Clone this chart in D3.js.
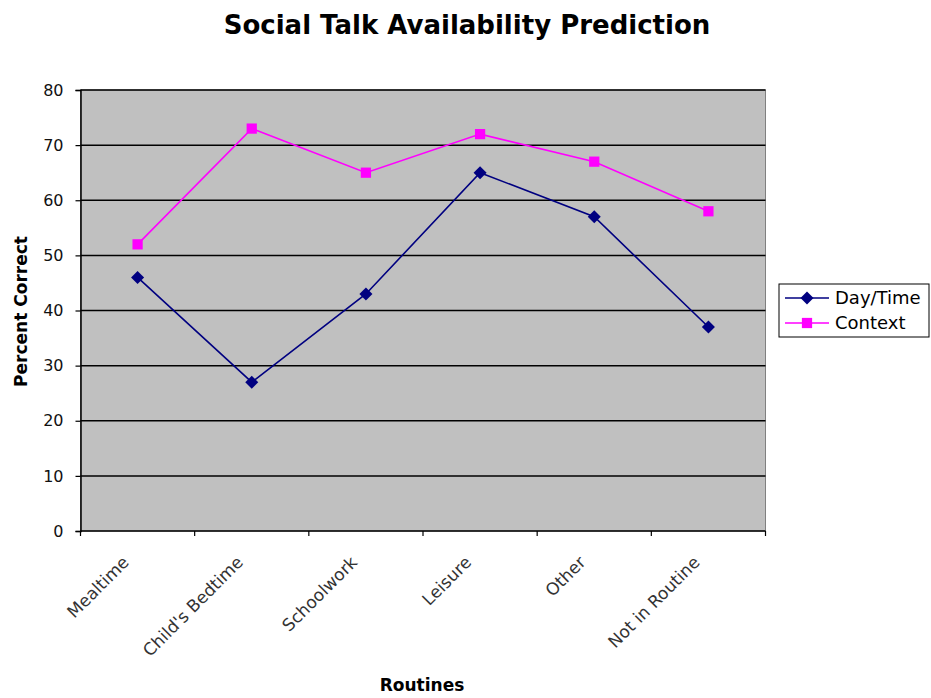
<!DOCTYPE html>
<html>
<head>
<meta charset="utf-8">
<script src="https://cdn.jsdelivr.net/npm/d3@7"></script>
<style>
  body { margin: 0; background: #fff; }
  text { font-family: "DejaVu Sans", Verdana, sans-serif; }
</style>
</head>
<body>
<svg id="chart" width="931" height="698"></svg>
<script>
// Routine categories and percent-correct values for each predictor
const categories = ["Mealtime", "Child's Bedtime", "Schoolwork", "Leisure", "Other", "Not in Routine"];
const dayTime = [46, 27, 43, 65, 57, 37];
const context = [52, 73, 65, 72, 67, 58];
const yTicks = [0, 10, 20, 30, 40, 50, 60, 70, 80];

// Diamond drawn as a square turned 45 degrees
const diamond = {
  draw(ctx, size) {
    const r = Math.sqrt(size / 2);
    ctx.moveTo(0, -r); ctx.lineTo(r, 0); ctx.lineTo(0, r); ctx.lineTo(-r, 0); ctx.closePath();
  }
};

const series = [
  { name: "Day/Time", values: dayTime, color: "#000080", shape: diamond, size: 85 },
  { name: "Context", values: context, color: "#ff00ff", shape: d3.symbolSquare, size: 105 }
];

const svg = d3.select("#chart");
const plot = { left: 80.5, top: 90, right: 765.5, bottom: 531 };

const x = d3.scaleBand().domain(categories).range([plot.left, plot.right]).padding(0);
const y = d3.scaleLinear().domain([0, 80]).range([plot.bottom, plot.top]);

// Plot background
svg.append("rect")
  .attr("x", plot.left).attr("y", plot.top)
  .attr("width", plot.right - plot.left).attr("height", plot.bottom - plot.top)
  .attr("fill", "#c0c0c0")
  .attr("stroke", "#808080").attr("stroke-width", 1);

// Horizontal gridlines
svg.append("g").selectAll("line")
  .data(yTicks.filter(t => t > 0))
  .join("line")
  .attr("x1", plot.left).attr("x2", plot.right)
  .attr("y1", d => y(d)).attr("y2", d => y(d))
  .attr("stroke", "#000").attr("stroke-width", 1.5);

// Y axis
const yAxis = svg.append("g")
  .attr("transform", `translate(${plot.left},0)`)
  .call(d3.axisLeft(y).tickValues(yTicks).tickSize(5).tickPadding(12));
yAxis.select(".domain").attr("stroke", "#000").attr("stroke-width", 1.5);
yAxis.selectAll(".tick line").attr("stroke", "#000").attr("stroke-width", 1.2);
yAxis.selectAll(".tick text")
  .attr("font-size", 16).attr("fill", "#111")
  .style("font-family", "'DejaVu Sans', Verdana, sans-serif");

// X axis: ticks sit at the category boundaries
const boundaries = categories.map(c => x(c)).concat([plot.right]);
const xg = svg.append("g");
xg.append("line")
  .attr("x1", plot.left).attr("x2", plot.right)
  .attr("y1", plot.bottom).attr("y2", plot.bottom)
  .attr("stroke", "#000").attr("stroke-width", 1.5);
xg.selectAll("line.tick")
  .data(boundaries)
  .join("line").attr("class", "tick")
  .attr("x1", d => d).attr("x2", d => d)
  .attr("y1", plot.bottom).attr("y2", plot.bottom + 5)
  .attr("stroke", "#000").attr("stroke-width", 1.2);
xg.selectAll("text")
  .data(categories)
  .join("text")
  .attr("transform", d => `translate(${x(d) + x.bandwidth() / 2 - 16},${plot.bottom + 24}) rotate(-45)`)
  .attr("text-anchor", "end")
  .attr("dy", "0.7em")
  .attr("font-size", 17)
  .attr("fill", "#333")
  .text(d => d);

// Series lines and markers
const line = d3.line()
  .x((d, i) => x(categories[i]) + x.bandwidth() / 2)
  .y(d => y(d));

series.forEach(s => {
  svg.append("path")
    .datum(s.values)
    .attr("d", line)
    .attr("fill", "none")
    .attr("stroke", s.color)
    .attr("stroke-width", 1.6);
  svg.append("g").selectAll("path")
    .data(s.values)
    .join("path")
    .attr("transform", (d, i) => `translate(${x(categories[i]) + x.bandwidth() / 2},${y(d)})`)
    .attr("d", d3.symbol().type(s.shape).size(s.size))
    .attr("fill", s.color);
});

// Title
svg.append("text")
  .attr("x", 467).attr("y", 34)
  .attr("text-anchor", "middle")
  .attr("font-size", 26).attr("font-weight", "bold")
  .attr("fill", "#000")
  .text("Social Talk Availability Prediction");

// Axis titles
svg.append("text")
  .attr("transform", `translate(27,${(plot.top + plot.bottom) / 2 + 1}) rotate(-90)`)
  .attr("text-anchor", "middle")
  .attr("font-size", 17).attr("font-weight", "bold")
  .text("Percent Correct");

svg.append("text")
  .attr("x", 422).attr("y", 691)
  .attr("text-anchor", "middle")
  .attr("font-size", 17).attr("font-weight", "bold")
  .text("Routines");

// Legend
const legend = svg.append("g").attr("transform", "translate(779,284)");
legend.append("rect")
  .attr("width", 150).attr("height", 53)
  .attr("fill", "#fff").attr("stroke", "#000").attr("stroke-width", 1);
series.forEach((s, i) => {
  const ly = 14 + i * 25;
  legend.append("line")
    .attr("x1", 6).attr("x2", 50).attr("y1", ly).attr("y2", ly)
    .attr("stroke", s.color).attr("stroke-width", 1.6);
  legend.append("path")
    .attr("transform", `translate(28,${ly})`)
    .attr("d", d3.symbol().type(s.shape).size(s.size))
    .attr("fill", s.color);
  legend.append("text")
    .attr("x", 56).attr("y", ly)
    .attr("dy", "0.36em")
    .attr("font-size", 18)
    .attr("fill", "#000")
    .text(s.name);
});
</script>
</body>
</html>
